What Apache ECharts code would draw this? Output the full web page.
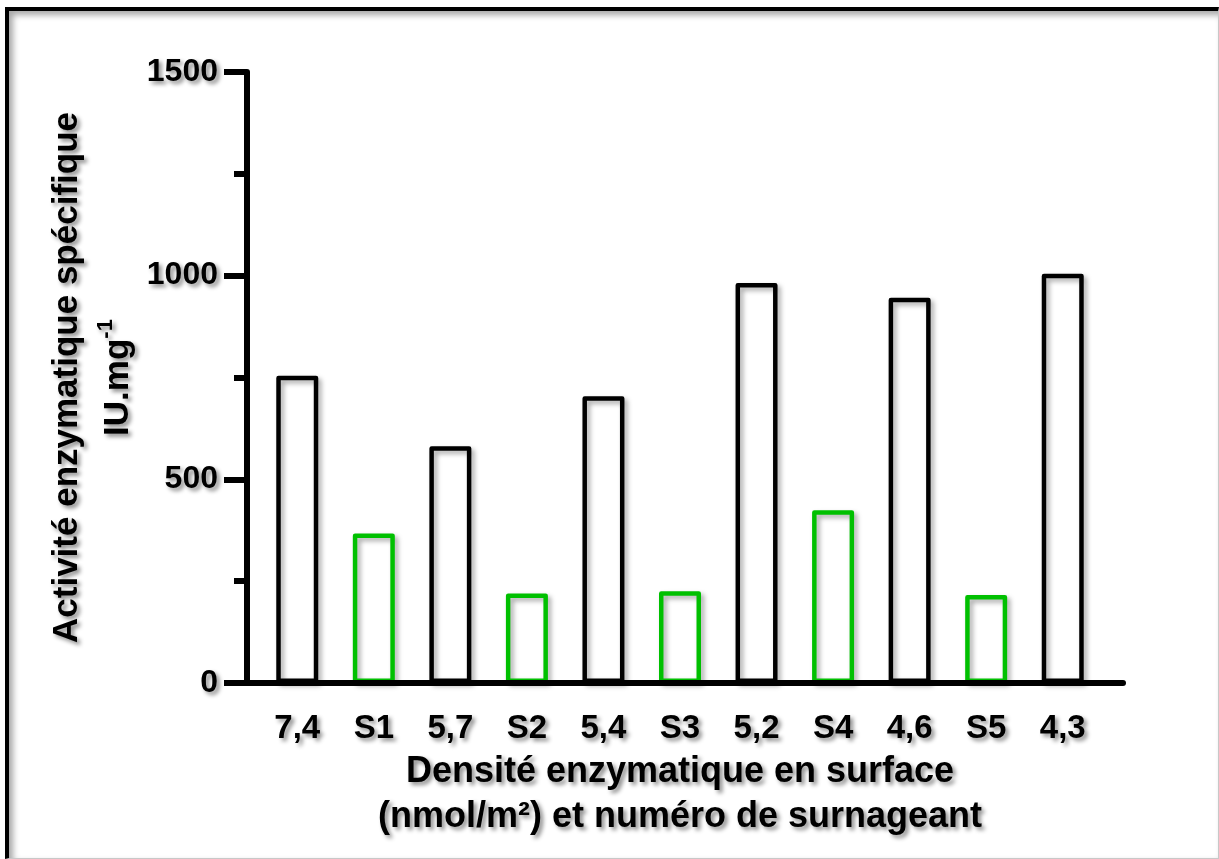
<!DOCTYPE html>
<html>
<head>
<meta charset="utf-8">
<script src="https://cdn.jsdelivr.net/npm/echarts@6/dist/echarts.min.js"></script>
<style>
  html, body { margin: 0; padding: 0; background: #fff; }
  #frame {
    position: absolute; left: 5px; top: 7px; width: 1209px; height: 847px;
    border-top: 4px solid #000; border-left: 4px solid #000;
    border-right: 1px solid #c8c8c8; border-bottom: 1px solid #c8c8c8;
    box-shadow: inset 4px 4px 6px rgba(0,0,0,0.35);
  }
  #chart { position: absolute; left: 0; top: 0; width: 1219px; height: 859px; }
</style>
</head>
<body>
<div id="frame"></div>
<div id="chart"></div>
<script>
// ---- data ----
const categories = ['7,4', 'S1', '5,7', 'S2', '5,4', 'S3', '5,2', 'S4', '4,6', 'S5', '4,3'];
const activity = [754, 367, 581, 220, 704, 225, 982, 424, 946, 216, 1005];
const yTicks = [0, 500, 1000, 1500];

const FONT = '"Liberation Sans", Arial, sans-serif';
const shadow = { textShadowColor: 'rgba(0,0,0,0.45)', textShadowBlur: 4, textShadowOffsetX: 3, textShadowOffsetY: 3 };

const chart = echarts.init(document.getElementById('chart'), null, { renderer: 'canvas' });

const barData = activity.map((v, i) => ({
  value: v,
  itemStyle: { borderColor: categories[i].startsWith('S') ? '#00c000' : '#000000' }
}));

const option = {
  backgroundColor: 'transparent',
  animation: false,
  grid: [
    { left: 259, right: 118, top: 72, bottom: 176 },
    { left: 247, right: 96, top: 72, bottom: 176 }
  ],
  xAxis: [
    {
      type: 'category', gridIndex: 0, data: categories,
      axisLine: { show: false }, axisTick: { show: false },
      axisLabel: { margin: 29, color: '#000', fontFamily: FONT, fontWeight: 'bold', fontSize: 33, interval: 0, ...shadow },
      name: 'Densité enzymatique en surface\n(nmol/m²) et numéro de surnageant',
      nameLocation: 'middle', nameGap: 64,
      nameTextStyle: { color: '#000', fontFamily: FONT, fontWeight: 'bold', fontSize: 36, lineHeight: 45, ...shadow }
    },
    {
      type: 'value', gridIndex: 1, min: 0, max: 1, z: 10,
      axisLine: { show: true, lineStyle: { color: '#000', width: 6 } },
      axisTick: { show: false }, axisLabel: { show: false }, splitLine: { show: false }
    }
  ],
  yAxis: [
    {
      type: 'value', gridIndex: 0, min: yTicks[0], max: yTicks[yTicks.length - 1], interval: 500,
      offset: 12,
      axisLine: { show: true, lineStyle: { color: '#000', width: 6 } },
      axisTick: { show: true, length: 23, lineStyle: { color: '#000', width: 6 } },
      minorTick: { show: true, splitNumber: 2, length: 13, lineStyle: { color: '#000', width: 6 } },
      splitLine: { show: false },
      axisLabel: { margin: 29, color: '#000', fontFamily: FONT, fontWeight: 'bold', fontSize: 32, formatter: v => String(v), ...shadow },
      name: '{t|Activité enzymatique spécifique}\n{u|IU.mg}{s|-1}',
      nameLocation: 'middle', nameRotate: 90, nameGap: 82,
      nameTextStyle: {
        color: '#000', fontFamily: FONT, fontWeight: 'bold', fontSize: 35, ...shadow,
        rich: {
          t: { color: '#000', fontFamily: FONT, fontWeight: 'bold', fontSize: 35, lineHeight: 56, ...shadow },
          u: { color: '#000', fontFamily: FONT, fontWeight: 'bold', fontSize: 35, lineHeight: 46, ...shadow },
          s: { color: '#000', fontFamily: FONT, fontWeight: 'bold', fontSize: 22, lineHeight: 46, verticalAlign: 'top', ...shadow }
        }
      }
    },
    { type: 'value', gridIndex: 1, show: false, min: 0, max: 1 }
  ],
  series: [
    {
      type: 'bar', xAxisIndex: 0, yAxisIndex: 0, barWidth: 42,
      data: barData,
      itemStyle: {
        color: 'rgba(255,255,255,0)', borderWidth: 4.5, borderJoin: 'round',
        shadowColor: 'rgba(0,0,0,0.35)', shadowBlur: 5, shadowOffsetX: 3, shadowOffsetY: 3
      }
    }
  ]
};
chart.setOption(option);
</script>
</body>
</html>
